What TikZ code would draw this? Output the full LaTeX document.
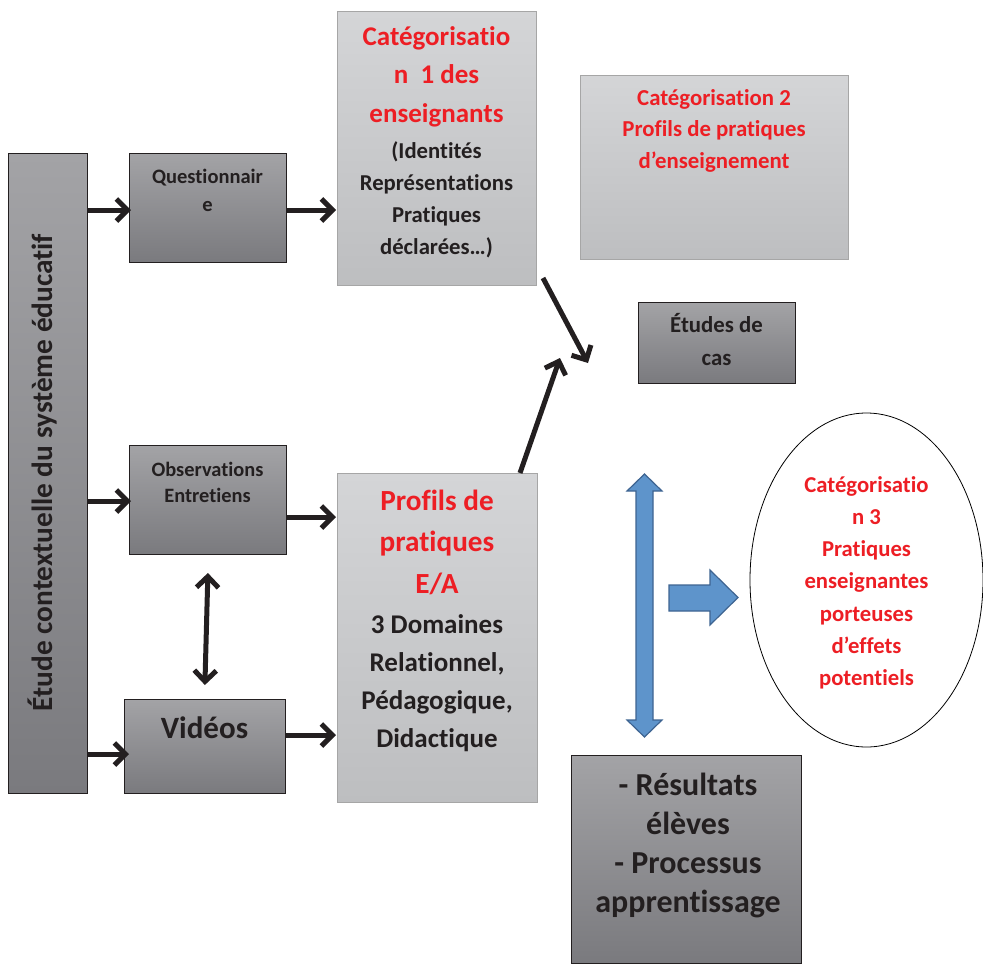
\documentclass[tikz,border=0pt]{standalone}
\usepackage{fontspec}
\setmainfont{Carlito}[Ligatures={NoCommon}]
\usetikzlibrary{arrows.meta,shapes.geometric}
\definecolor{gdA}{RGB}{163,163,166}
\definecolor{gdB}{RGB}{122,122,126}
\definecolor{glA}{RGB}{212,213,215}
\definecolor{glB}{RGB}{189,190,192}
\definecolor{redT}{RGB}{237,30,36}
\definecolor{txt}{RGB}{35,31,32}
\definecolor{blueF}{RGB}{94,148,203}
\definecolor{blueD}{RGB}{62,100,145}
\tikzset{
  darkbox/.style={rectangle, draw=txt, line width=0.8pt, top color=gdA, bottom color=gdB, inner sep=0pt, anchor=north west},
  lightbox/.style={rectangle, draw=black!35, line width=0.8pt, top color=glA, bottom color=glB, inner sep=0pt, anchor=north west},
  lbl/.style={inner sep=0pt, anchor=north, align=center, text=txt, font=\bfseries},
  blk/.style={draw=txt, line width=5pt, -{Straight Barb[length=11pt,width=22pt,line width=5pt]}},
  blkd/.style={draw=txt, line width=5pt, {Straight Barb[length=11pt,width=22pt,line width=5pt]}-{Straight Barb[length=11pt,width=22pt,line width=5pt]}},
  bluearr/.style={fill=blueF, draw=blueD, line width=1.2pt, line join=miter}
}
\begin{document}
\begin{tikzpicture}[x=1pt,y=-1pt]
\useasboundingbox (0,0) rectangle (983,964);
% boxes
\node[darkbox, minimum width=79, minimum height=640] (L) at (8,153) {};
\node[darkbox, minimum width=157, minimum height=109] (Q) at (129,153) {};
\node[darkbox, minimum width=157, minimum height=109] (O) at (129,445) {};
\node[darkbox, minimum width=161, minimum height=94] (V) at (124,699) {};
\node[lightbox, minimum width=199, minimum height=274] (C1) at (337,11) {};
\node[lightbox, minimum width=268, minimum height=184] (C2) at (580,75) {};
\node[darkbox, minimum width=157, minimum height=81] (E) at (638,302) {};
\node[lightbox, minimum width=200, minimum height=329] (P) at (337,473) {};
\node[darkbox, minimum width=230, minimum height=208] (R) at (571,755) {};
\node[ellipse, draw=black, line width=0.8pt, fill=white, minimum width=233, minimum height=334, inner sep=0pt] (C3) at (866.5,580) {};
% texts
\node[inner sep=0pt, anchor=base, rotate=90, text=txt, font=\bfseries\fontsize{29.3}{35}\selectfont] (tL) at (52,472.5) {Étude contextuelle du système éducatif};
\node[lbl, font=\bfseries\fontsize{20.5}{28}\selectfont] (tQ) at (207.5,163.4) {\strut Questionnair\\e};
\node[lbl, font=\bfseries\fontsize{20.4}{26}\selectfont] (tO) at (207.5,457.8) {\strut Observations\\Entretiens};
\node[lbl, font=\bfseries\fontsize{31}{38}\selectfont] (tV) at (204.5,711.4) {\strut Vidéos};
\node[lbl, text=redT, font=\bfseries\fontsize{27}{38.5}\selectfont] (tC1r) at (436.5,18.05) {\strut Catégorisatio\\n~ 1 des\\enseignants};
\node[lbl, font=\bfseries\fontsize{22.7}{32}\selectfont] (tC1b) at (436.5,135.6) {\strut (Identités\\Représentations\\Pratiques\\déclarées…)};
\node[lbl, text=redT, font=\bfseries\fontsize{22.8}{31.5}\selectfont] (tC2) at (714,82.95) {\strut Catégorisation 2\\Profils de pratiques\\d’enseignement};
\node[lbl, font=\bfseries\fontsize{22.8}{33}\selectfont] (tE) at (716.5,308.9) {\strut Études de\\cas};
\node[lbl, text=redT, font=\bfseries\fontsize{29.2}{41.5}\selectfont] (tPr) at (437,480.95) {\strut Profils de\\pratiques\\E/A};
\node[lbl, font=\bfseries\fontsize{27}{38}\selectfont] (tPb) at (437,606.4) {\strut 3 Domaines\\Relationnel,\\Pédagogique,\\Didactique};
\node[lbl, text=redT, font=\bfseries\fontsize{22.7}{32.2}\selectfont] (tC3) at (866.5,469.46) {\strut Catégorisatio\\n 3\\Pratiques\\enseignantes\\porteuses\\d’effets\\potentiels};
\node[lbl, font=\bfseries\fontsize{32}{39}\selectfont] (tR) at (688,767.7) {\strut - Résultats\\élèves\\- Processus\\apprentissage};
% black arrows
\draw[blk] (L.east |- 0,210) -- ([xshift=2]Q.west |- 0,210);
\draw[blk] (Q.east |- 0,210) -- ([xshift=-1]C1.west |- 0,210);
\draw[blk] (L.east |- 0,501) -- ([xshift=2]O.west |- 0,501);
\draw[blk] (O.east |- 0,517) -- ([xshift=-1]P.west |- 0,517);
\draw[blk] (L.east |- 0,754) -- ([xshift=5]V.west |- 0,754);
\draw[blk] (V.east |- 0,735) -- ([xshift=-1]P.west |- 0,735);
\draw[blkd] (200,573 -| O.south) -- (200,685 -| V.north);
\coordinate (d1s) at (543,278);
\coordinate (d1e) at (588,363);
\coordinate (d2e) at (560,358);
\draw[blk] (d1s) -- (d1e);
\draw[blk] (P.north -| 520,0) -- (d2e);
% blue arrows
\draw[bluearr] (644.5,474) -- (662,491) -- (653,491) -- (653,720) -- (662,720) -- (644.5,737) -- (627,720) -- (636,720) -- (636,491) -- (627,491) -- cycle;
\draw[bluearr] (669,585) -- (710,585) -- (710,570) -- (738,597.5) -- (710,625) -- (710,611) -- (669,611) -- cycle;
\end{tikzpicture}
\end{document}
